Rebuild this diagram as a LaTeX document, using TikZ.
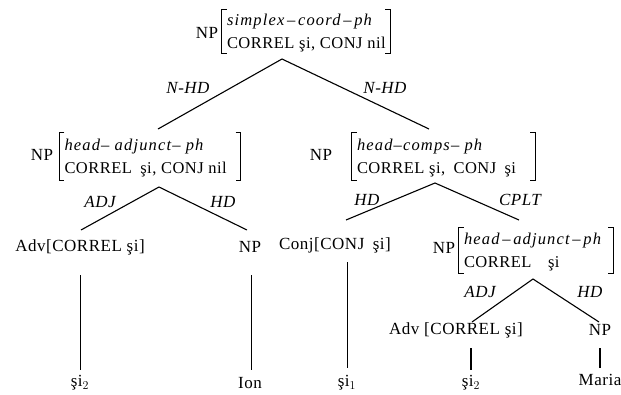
\documentclass[tikz,border=0pt]{standalone}
\usepackage{fontspec}
\setmainfont{Liberation Serif}[LetterSpace=3]
\newcommand\avit[1]{{\itshape\addfontfeature{LetterSpace=7}#1}}
\begin{document}
\begin{tikzpicture}[x=1pt,y=-1pt,
  lbl/.style={font=\fontsize{17}{17}\selectfont\itshape, inner sep=0pt},
  word/.style={font=\fontsize{17}{17}\selectfont, inner sep=0pt},
  avm/.style={inner sep=0pt},
  avmtext/.style={font=\fontsize{16.5}{23}\selectfont, align=left, inner sep=0pt, anchor=west},
  br/.style={line width=0.7pt},
  edge/.style={line width=1.1pt},
  stem/.style={line width=0.8pt},
  stemb/.style={line width=1.6pt}]
\useasboundingbox (0,0) rectangle (621,394);
\newcommand\avmbr[1]{%
  \draw[br] ([xshift=5pt]#1.north west) -- (#1.north west) -- (#1.south west) -- ++(5pt,0);
  \draw[br] ([xshift=-5pt]#1.north east) -- (#1.north east) -- (#1.south east) -- ++(-5pt,0);}

% AVMs
\node[word] (rNP) at (207,33) {NP};
\node[avm, minimum width=168pt, minimum height=43pt] (rA) at (306,31.5) {};
\node[avmtext] (rAt) at ([xshift=5pt,yshift=-2pt]rA.west) {\avit{simplex\,--\,coord\,--\,ph}\\CORREL şi, CONJ nil};
\avmbr{rA}
\node[word] (lNP) at (42,155) {NP};
\node[avm, minimum width=181pt, minimum height=47pt] (lA) at (150,156.5) {};
\node[avmtext] (lAt) at ([xshift=5pt,yshift=-2pt]lA.west) {\avit{head-- adjunct-- ph}\\CORREL\enspace şi, CONJ nil};
\avmbr{lA}
\node[word] (mNP) at (321,155) {NP};
\node[avm, minimum width=183pt, minimum height=47pt] (mA) at (443.5,156.5) {};
\node[avmtext] (mAt) at ([xshift=5pt,yshift=-2pt]mA.west) {\avit{head--comps-- ph}\\CORREL şi,\enspace CONJ\enspace şi};
\avmbr{mA}
\node[word] (bNP) at (444,248) {NP};
\node[avm, minimum width=154pt, minimum height=45pt] (bA) at (536,250.5) {};
\node[avmtext] (bAt) at ([xshift=5pt,yshift=-2pt]bA.west) {\avit{head\,--\,adjunct\,--\,ph}\\CORREL\quad şi};
\avmbr{bA}

% branch points
\coordinate (rT) at (282,59);
\coordinate (rL) at (158,129);
\coordinate (rR) at (429,129);
\coordinate (lT) at (159,187);
\coordinate (lL) at (81,230);
\coordinate (lR) at (247,230);
\coordinate (mT) at (435,183);
\coordinate (mL) at (346,220);
\coordinate (mR) at (519,220);
\coordinate (bT) at (533,279);
\coordinate (bL) at (472,322);
\coordinate (bR) at (599,322);

\draw[edge] (rL) -- (rT) -- (rR);
\draw[edge] (lL) -- (lT) -- (lR);
\draw[edge] (mL) -- (mT) -- (mR);
\draw[edge] (bL) -- (bT) -- (bR);

\node[lbl] (l1) at (188,88) {N-HD};
\node[lbl] (l2) at (385,88) {N-HD};
\node[lbl] (l3) at (100,202) {ADJ};
\node[lbl] (l4) at (223,202) {HD};
\node[lbl] (l5) at (367,200) {HD};
\node[lbl] (l6) at (520,200) {CPLT};
\node[lbl] (l7) at (480,292) {ADJ};
\node[lbl] (l8) at (590,292) {HD};

% preterminals
\node[word] (adv1) at (80,247) {Adv[CORREL şi]};
\node[word] (np1) at (250,247) {NP};
\node[word] (conj) at (335,245) {Conj[CONJ\enspace şi]};
\node[word] (adv2) at (456,330) {Adv [CORREL şi]};
\node[word] (np2) at (600,330) {NP};

% leaves
\node[word] (w1) at (80,383) {şi$_2$};
\node[word] (w2) at (250,383) {Ion};
\node[word] (w3) at (347,383) {şi$_1$};
\node[word] (w4) at (471,383) {şi$_2$};
\node[word] (w5) at (600,380) {Maria};

\coordinate (s1a) at (80,275);  \coordinate (s1b) at (80,370);
\coordinate (s2a) at (251,275); \coordinate (s2b) at (251,370);
\coordinate (s3a) at (347,262); \coordinate (s3b) at (347,368);
\coordinate (s4a) at (471,348); \coordinate (s4b) at (471,370);
\coordinate (s5a) at (600,348); \coordinate (s5b) at (600,368);
\draw[stem] (s1a) -- (s1b);
\draw[stem] (s2a) -- (s2b);
\draw[stem] (s3a) -- (s3b);
\draw[stemb] (s4a) -- (s4b);
\draw[stemb] (s5a) -- (s5b);
\end{tikzpicture}
\end{document}
